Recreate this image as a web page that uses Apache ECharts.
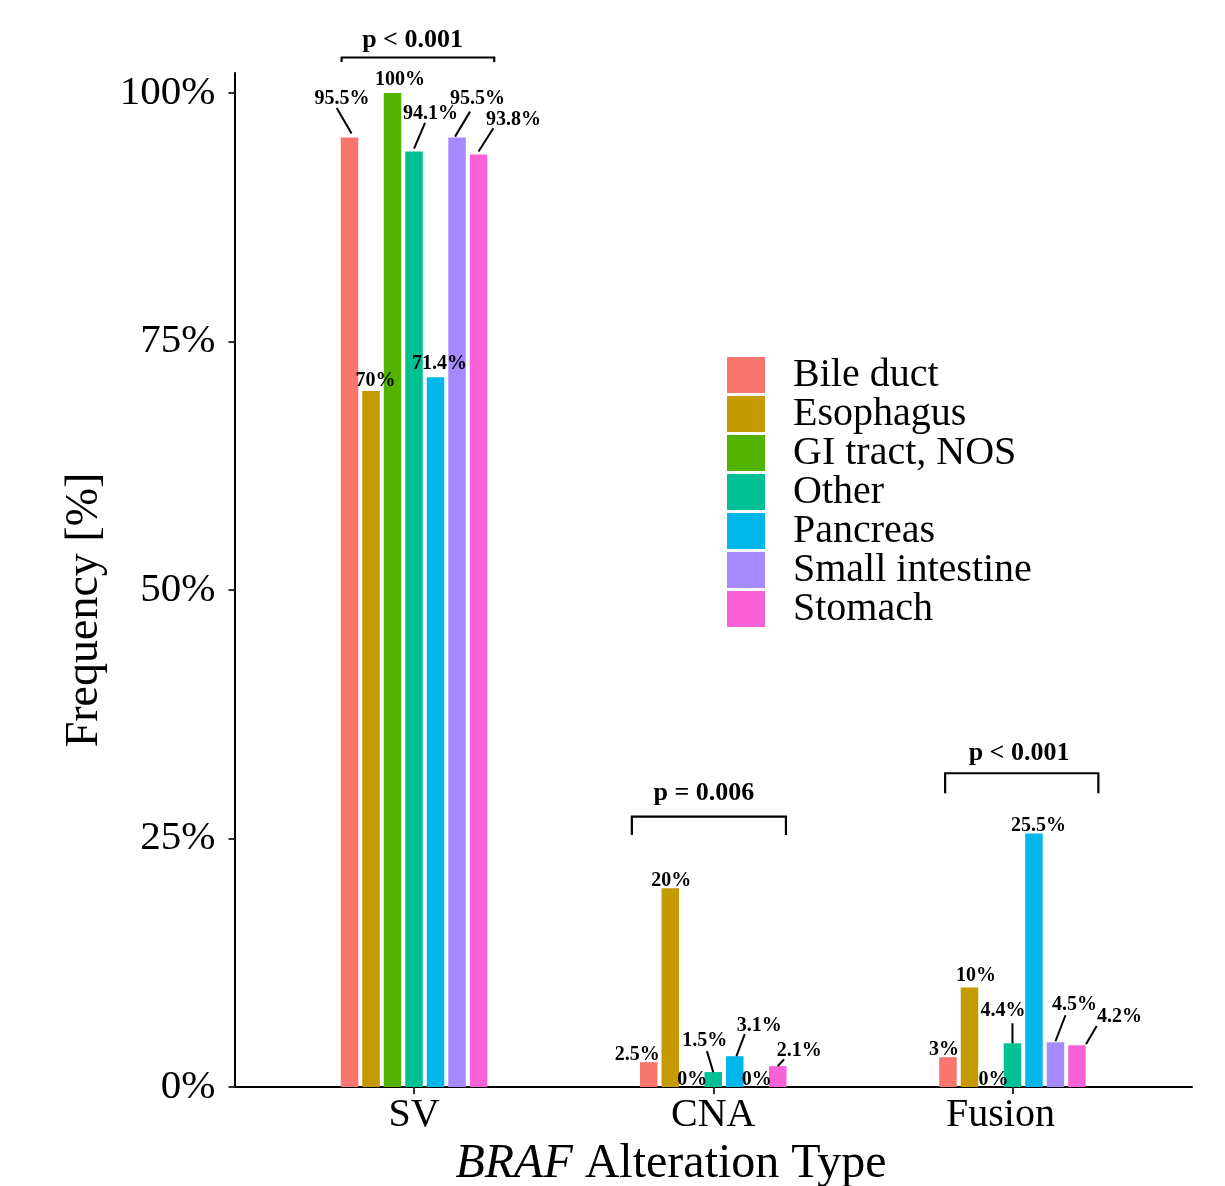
<!DOCTYPE html>
<html><head><meta charset="utf-8">
<script src="https://cdn.jsdelivr.net/npm/echarts@6/dist/echarts.min.js"></script>
<style>html,body{margin:0;padding:0;background:#fff}#c{width:1225px;height:1186px}</style>
</head><body><div id="c"></div>
<script>
// ---------- data ----------
const categories = ['SV', 'CNA', 'Fusion'];
const seriesNames = ['Bile duct', 'Esophagus', 'GI tract, NOS', 'Other', 'Pancreas', 'Small intestine', 'Stomach'];
const bileDuct       = [95.5, 2.5, 3];
const esophagus      = [70, 20, 10];
const giTract        = [100, 0, 0];
const other          = [94.1, 1.5, 4.4];
const pancreas       = [71.4, 3.1, 25.5];
const smallIntestine = [95.5, 0, 4.5];
const stomach        = [93.8, 2.1, 4.2];
const yTickValues = [0, 25, 50, 75, 100];
const pValueTexts = ['p < 0.001', 'p = 0.006', 'p < 0.001'];
// bracket spans (x in category units, y in %)
const bracketStart = [0.758, 1.728, 2.775];
const bracketEnd   = [1.268, 2.243, 3.287];
const bracketTop   = [103.56, 27.19, 31.56];
const bracketTip   = [103.10, 25.35, 29.54];
const pTextX = [0.995, 1.969, 3.022];
const pTextY = [105.3, 29.57, 33.6];

// ---------- styles ----------
const seriesValues = [bileDuct, esophagus, giTract, other, pancreas, smallIntestine, stomach];
const colors = ['#F8766D', '#C49A00', '#53B400', '#00C094', '#00B6EB', '#A58AFF', '#FB61D7'];
const BAR_W = 17.5, BAR_GAP_PX = 4;
const SERIF = 'Liberation Serif';
// label offsets [dx, dy] per series per category (repel-like placement)
const labelOffsets = [
  [[-7.5, -29], [-11.5, 3], [-4, 2.5]],
  [[4.5, 0], [1, 2.5], [6.5, -1.5]],
  [[7.5, -3], [0.5, 2.5], [2.5, 2.5]],
  [[16.5, -28], [-8.5, -21], [-9.5, -22]],
  [[4, -3.5], [24.5, -20], [4.5, 2]],
  [[20.5, -29], [0.5, 2.5], [19, -27]],
  [[35, -25], [21.5, -5.5], [42.5, -18]]
];
// leader segments: [seriesIdx, catIdx, sx, sy, ex, ey] relative to bar top centre
const leaderSegs = [
  [0, 0, 2, -4, -12.8, -29.7],
  [3, 0, 0, -3, 11, -28.6],
  [5, 0, -2, -1, 13, -26],
  [6, 0, 0, -3, 14.8, -26.3],
  [3, 1, 0, 0, -6.3, -21],
  [4, 1, 1.7, 0, 10, -22],
  [6, 1, 0, 0, 6.3, -6.8],
  [3, 2, 0, 0, 0, -20],
  [5, 2, 0, -1, 10, -27],
  [6, 2, 9, -1, 19.7, -19.3]
];

const chart = echarts.init(document.getElementById('c'), null, {renderer: 'canvas'});

const barSeries = seriesNames.map((name, i) => ({
  name: name,
  type: 'bar',
  barWidth: BAR_W,
  barGap: (BAR_GAP_PX / BAR_W * 100) + '%',
  itemStyle: {color: colors[i]},
  data: seriesValues[i].map((v, j) => ({
    value: [j + 1, v],
    label: {offset: labelOffsets[i][j]}
  })),
  label: {
    show: true,
    position: 'top',
    distance: 0,
    formatter: p => p.value[1] + '%',
    fontFamily: SERIF,
    fontWeight: 'bold',
    fontSize: 20,
    lineHeight: 20,
    color: '#000'
  },
  emphasis: {disabled: true},
  z: 2
}));

const leaderSeries = {
  type: 'custom',
  silent: true,
  clip: false,
  z: 3,
  encode: {x: 0, y: 1},
  data: leaderSegs.map((s, k) => [s[1] + 1, seriesValues[s[0]][s[1]], k]),
  renderItem: function (params, api) {
    const k = api.value(2);
    const s = leaderSegs[k];
    const p = api.coord([api.value(0), api.value(1)]);
    const cx = p[0] + (s[0] - 3) * (BAR_W + BAR_GAP_PX);
    return {
      type: 'line',
      shape: {x1: cx + s[2], y1: p[1] + s[3], x2: cx + s[4], y2: p[1] + s[5]},
      style: {stroke: '#000', lineWidth: 2}
    };
  }
};

const bracketSeries = {
  type: 'custom',
  silent: true,
  clip: false,
  z: 4,
  encode: {x: 0, y: 2},
  data: pValueTexts.map((t, k) => [bracketStart[k], bracketEnd[k], bracketTop[k], bracketTip[k], pTextX[k], pTextY[k], k]),
  renderItem: function (params, api) {
    const a = api.coord([api.value(0), api.value(3)]);
    const b = api.coord([api.value(0), api.value(2)]);
    const c = api.coord([api.value(1), api.value(2)]);
    const d = api.coord([api.value(1), api.value(3)]);
    const t = api.coord([api.value(4), api.value(5)]);
    return {
      type: 'group',
      children: [
        {type: 'polyline', shape: {points: [a, b, c, d]}, style: {stroke: '#000', lineWidth: 2.2, fill: null}},
        {type: 'text', x: t[0], y: t[1], style: {
          text: pValueTexts[api.value(6)], fontFamily: SERIF, fontWeight: 'bold', fontSize: 26,
          fill: '#000', align: 'center', verticalAlign: 'middle'}}
      ]
    };
  }
};

const option = {
  animation: false,
  backgroundColor: '#fff',
  grid: {left: 234.5, right: 33, top: 73, bottom: 99, containLabel: false},
  xAxis: {
    type: 'value',
    min: 0.4, max: 3.6,
    splitLine: {show: false},
    axisLine: {show: true, onZero: false, lineStyle: {color: '#000', width: 2}},
    axisTick: {show: true, customValues: [1, 2, 3], length: 7, lineStyle: {color: '#333', width: 2}},
    axisLabel: {
      show: true, customValues: [1, 2, 3], margin: 8,
      formatter: v => {
        const n = categories[Math.round(v) - 1];
        return n === 'Fusion' ? '{f|' + n + '}' : n;
      },
      rich: {f: {fontFamily: SERIF, fontSize: 40, color: '#000', padding: [0, 24, 0, 0]}},
      fontFamily: SERIF, fontSize: 40, color: '#000'
    }
  },
  yAxis: {
    type: 'value',
    min: 0, max: 102,
    splitLine: {show: false},
    axisLine: {show: true, onZero: false, lineStyle: {color: '#000', width: 2}},
    axisTick: {show: true, customValues: yTickValues, length: 6, lineStyle: {color: '#333', width: 2}},
    axisLabel: {
      show: true, customValues: yTickValues, margin: 19,
      formatter: v => v + '%',
      padding: [6, 0, 0, 0],
      fontFamily: SERIF, fontSize: 41, color: '#000'
    }
  },
  legend: {
    orient: 'vertical',
    left: 727, top: 355,
    padding: 0,
    itemWidth: 38, itemHeight: 36, itemGap: -1,
    icon: 'rect',
    data: seriesNames,
    selectedMode: false,
    textStyle: {fontFamily: SERIF, fontSize: 40, lineHeight: 36, color: '#000', padding: [0, 0, 0, 23]}
  },
  graphic: [
    {type: 'text', x: 85, y: 610, rotation: Math.PI / 2, silent: true,
     style: {text: 'Frequency [%]', fontFamily: SERIF, fontSize: 46, fill: '#000', align: 'center', verticalAlign: 'middle'}},
    {type: 'text', x: 671, y: 1164, silent: true,
     style: {text: '{i|BRAF} Alteration Type', fontFamily: SERIF, fontSize: 48, fill: '#000', align: 'center', verticalAlign: 'middle',
       rich: {i: {fontFamily: SERIF, fontStyle: 'italic', fontSize: 48, fill: '#000'}}}}
  ],
  series: barSeries.concat([leaderSeries, bracketSeries])
};
chart.setOption(option);
</script>
</body></html>
